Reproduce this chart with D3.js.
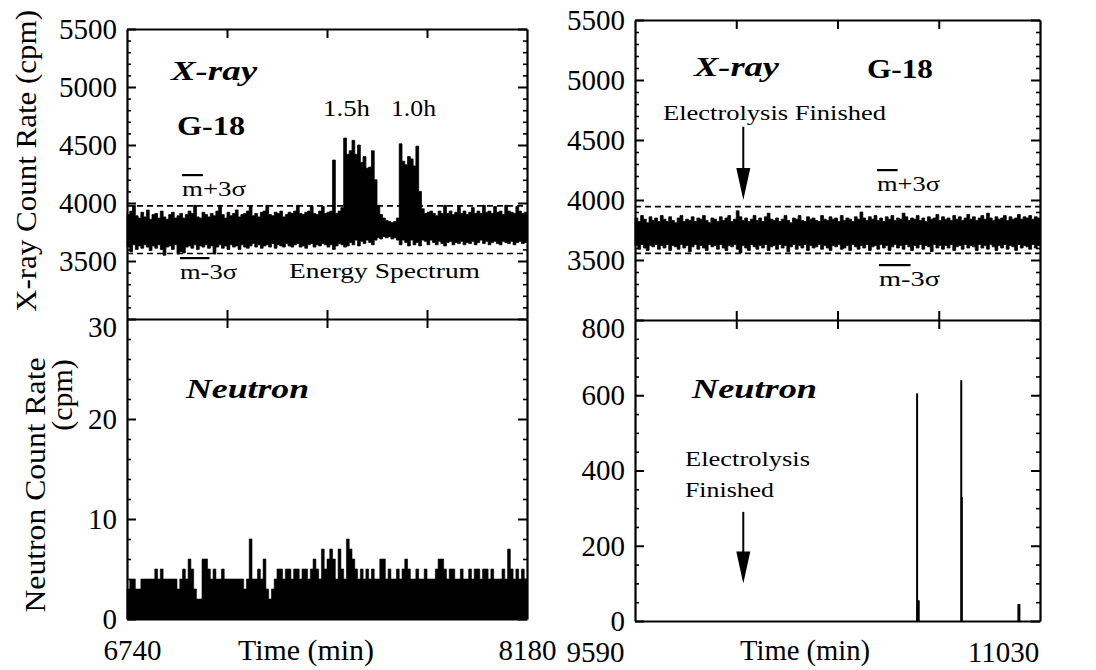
<!DOCTYPE html>
<html><head><meta charset="utf-8">
<script src="https://cdn.jsdelivr.net/npm/d3@7"></script>
<style>
body{margin:0;background:#fff}
svg{display:block}
text{font-family:"Liberation Serif","Times New Roman",serif;fill:#000}
</style>
</head><body>
<svg id="c" width="1096" height="670"></svg>
<script>
// ---------------- DATA ----------------
const binMinutes = 10;
const leftRange = [6740, 8180];
const rightRange = [9590, 11030];
const xrayDomain = [3000, 5500];
const xrayMajorTicks = [3500, 4000, 4500, 5000, 5500];
const neutronLeftDomain = [0, 30];
const neutronLeftTicks = [0, 10, 20, 30];
const neutronRightDomain = [0, 800];
const neutronRightTicks = [0, 200, 400, 600, 800];
const leftTimeTicks = [7100, 7460, 7820];
const rightTimeTicks = [9950, 10310, 10670];

// X-ray count rate, left (6740-8180 min), per 10-min bin: upper and lower envelope
const xrayLeftHi = [
3900,3930,3980,3890,3870,3920,3880,3940,3860,3900,
3910,3870,3930,3880,3860,3900,3920,3870,3890,3910,
3870,3900,3930,3910,3980,3880,3870,3920,3900,3880,
3910,3890,3930,3980,3900,3870,3920,3890,3910,3940,
3880,3900,3910,3930,3970,3890,3910,3880,3920,3930,
3980,3900,3890,3920,3910,3930,3880,3900,3920,3910,
3930,3980,3910,3900,3920,3930,3970,3910,3900,3930,
3970,3910,3920,3930,4370,3910,3930,3960,4560,4420,
4450,4540,4420,4500,4350,4400,4300,4310,4450,4200,
3980,3900,3870,3850,3840,3830,3840,3870,4510,4360,
4330,4400,4380,4320,4490,4100,3950,3910,3920,3930,
3910,3890,3930,3910,3980,3910,3930,3900,3920,3970,
3910,3930,3900,3920,3960,3910,3930,3910,3980,3920,
3930,3910,3970,3920,3930,3900,3980,3930,3920,3910,
3970,3930,3910,3920];
const xrayLeftLo = [
3620,3580,3640,3600,3630,3610,3640,3620,3590,3630,
3610,3640,3600,3550,3620,3630,3600,3640,3560,3580,
3570,3620,3630,3610,3640,3600,3630,3620,3640,3610,
3630,3560,3620,3640,3610,3630,3600,3640,3620,3630,
3600,3640,3620,3610,3630,3650,3620,3640,3610,3630,
3640,3620,3650,3610,3640,3630,3620,3650,3630,3620,
3640,3650,3620,3630,3610,3640,3650,3620,3640,3630,
3650,3640,3620,3640,3600,3630,3650,3640,3620,3630,
3660,3640,3680,3630,3670,3650,3680,3660,3640,3680,
3700,3690,3710,3700,3710,3690,3700,3680,3640,3680,
3660,3630,3680,3640,3660,3630,3680,3670,3640,3680,
3660,3640,3670,3650,3630,3660,3670,3640,3660,3650,
3670,3640,3660,3650,3670,3640,3660,3680,3650,3670,
3640,3660,3670,3650,3640,3670,3660,3650,3670,3640,
3660,3670,3650,3660];

// X-ray count rate, right (9590-11030 min)
const xrayRightHi = [
3850,3820,3870,3840,3810,3860,3830,3850,3820,3870,
3840,3820,3860,3830,3810,3850,3870,3820,3840,3830,
3860,3820,3850,3840,3870,3830,3810,3850,3840,3820,
3860,3830,3850,3870,3820,3840,3910,3860,3830,3850,
3820,3840,3870,3830,3850,3820,3860,3890,3840,3830,
3850,3820,3840,3870,3830,3810,3850,3840,3870,3830,
3820,3860,3840,3850,3830,3820,3870,3840,3830,3860,
3840,3850,3820,3870,3830,3850,3840,3820,3860,3840,
3900,3850,3830,3860,3840,3870,3830,3850,3820,3860,
3840,3870,3830,3850,3840,3890,3860,3830,3850,3840,
3870,3830,3850,3820,3860,3840,3850,3880,3830,3860,
3840,3850,3830,3870,3840,3860,3830,3850,3880,3840,
3860,3830,3850,3870,3840,3890,3850,3830,3860,3840,
3850,3870,3830,3860,3840,3850,3880,3840,3860,3850,
3870,3840,3860,3850];
const xrayRightLo = [
3620,3590,3630,3600,3580,3620,3610,3630,3590,3620,
3600,3630,3580,3620,3610,3590,3630,3600,3620,3570,
3610,3630,3590,3620,3600,3580,3630,3610,3620,3590,
3630,3600,3580,3620,3610,3630,3590,3560,3620,3600,
3580,3630,3610,3590,3620,3600,3630,3580,3610,3620,
3590,3630,3600,3620,3570,3610,3630,3590,3620,3600,
3630,3580,3620,3600,3610,3630,3590,3620,3600,3580,
3620,3610,3630,3590,3600,3620,3580,3630,3610,3590,
3620,3600,3630,3580,3610,3620,3590,3630,3600,3620,
3580,3610,3630,3600,3620,3590,3630,3610,3580,3620,
3600,3630,3590,3620,3610,3570,3630,3600,3620,3590,
3620,3600,3630,3580,3610,3620,3590,3630,3600,3620,
3610,3580,3630,3600,3620,3590,3630,3610,3580,3620,
3600,3630,3590,3620,3610,3580,3630,3600,3620,3610,
3590,3630,3600,3620];

// m ± 3σ levels
const sigmaLeft = [3565, 3975];
const sigmaRight = [3555, 3945];

// Neutron count rate, left: max per 10-min bin
const neutronLeft = [
3,4,4,3,3,4,4,4,4,4,
5,4,5,4,4,4,4,4,3,4,
5,4,6,5,3,2,2,6,6,5,
4,5,4,4,5,4,4,4,4,4,
4,4,3,4,8,4,4,5,4,6,
3,2,3,4,5,5,4,5,5,4,
5,5,4,5,5,4,5,6,5,4,
7,5,6,7,6,4,7,5,4,8,
7,6,5,4,5,4,5,4,5,4,
4,6,6,4,5,4,4,5,4,5,
6,5,4,4,5,4,4,5,4,4,
4,5,6,6,5,4,5,5,4,4,
5,4,4,5,4,5,5,4,5,5,
4,5,4,4,4,5,4,7,5,4,
5,4,5,4];

// Neutron count rate, right: isolated bursts
const neutronRightTimes = [10593, 10597, 10750, 10752, 10955];
const neutronRightValues = [605, 55, 640, 330, 45];

const electrolysisEnd = 9975;

// ---------------- LAYOUT ----------------
const svg = d3.select("#c");
const L = {x0:127, x1:527, top:29, mid:319, bot:619, range:leftRange, ticks:leftTimeTicks, labelDx:[5,0]};
const R = {x0:635, x1:1040, top:20, mid:320, bot:621, range:rightRange, ticks:rightTimeTicks, labelDx:[-40,-37]};
const tickFont = 29;
const fmt = d3.format("d");

function binsToPoints(arrHi, arrLo, start){
  const pts = arrHi.map((h,i)=>({t:start+i*binMinutes, hi:h, lo:arrLo?arrLo[i]:0}));
  const last = pts[pts.length-1];
  pts.push({t:last.t+binMinutes, hi:last.hi, lo:last.lo});
  return pts;
}

function yAxes(g, P, y, major, minor, topLabel){
  g.append("g").attr("transform",`translate(${P.x0},0)`)
    .call(d3.axisLeft(y).tickValues(major).tickSize(-9).tickSizeOuter(0).tickPadding(10).tickFormat(fmt))
    .call(s=>{s.select(".domain").attr("stroke-width",2.2);
      s.selectAll(".tick line").attr("stroke-width",2);
      s.selectAll("text").attr("font-size",tickFont).style("font-family","Liberation Serif").attr("fill","#000")
        .attr("dy",d=>d===topLabel?"0.62em":"0.32em");});
  g.append("g").attr("transform",`translate(${P.x0},0)`)
    .call(d3.axisLeft(y).tickValues(minor).tickSize(-4).tickSizeOuter(0).tickFormat(""))
    .call(s=>{s.select(".domain").remove(); s.selectAll(".tick line").attr("stroke-width",1.6);});
  g.append("g").attr("transform",`translate(${P.x1},0)`)
    .call(d3.axisRight(y).tickValues(major).tickSize(-9).tickSizeOuter(0).tickFormat(""))
    .call(s=>{s.select(".domain").attr("stroke-width",2.2); s.selectAll(".tick line").attr("stroke-width",2);});
  g.append("g").attr("transform",`translate(${P.x1},0)`)
    .call(d3.axisRight(y).tickValues(minor).tickSize(-4).tickSizeOuter(0).tickFormat(""))
    .call(s=>{s.select(".domain").remove(); s.selectAll(".tick line").attr("stroke-width",1.6);});
}

function drawPanel(P, hi, lo, nTicks, nDomain, nMinorStep, sigma){
  const x = d3.scaleLinear().domain(P.range).range([P.x0, P.x1]);
  const yX = d3.scaleLinear().domain(xrayDomain).range([P.mid, P.top]);
  const yN = d3.scaleLinear().domain(nDomain).range([P.bot, P.mid]);
  const g = svg.append("g");

  const pts = binsToPoints(hi, lo, P.range[0]);
  g.append("path").datum(pts)
    .attr("d", d3.area().curve(d3.curveStepAfter).x(d=>x(d.t)).y0(d=>yX(d.lo)).y1(d=>yX(d.hi)))
    .attr("fill","#000").attr("stroke","#000").attr("stroke-width",0.8);

  g.selectAll("line.sig").data(sigma).join("line")
    .attr("x1",P.x0).attr("x2",P.x1).attr("y1",d=>yX(d)).attr("y2",d=>yX(d))
    .attr("stroke","#000").attr("stroke-width",1.6).attr("stroke-dasharray","6,4");

  const xrMinor = d3.range(3100, 5500, 100).filter(v=>v%500!==0);
  yAxes(g, P, yX, xrayMajorTicks, xrMinor, null);
  const nMinor = d3.range(nDomain[0], nDomain[1], nMinorStep).filter(v=>!nTicks.includes(v));
  yAxes(g, P, yN, nTicks, nMinor, nDomain[1]);

  g.append("g").attr("transform",`translate(0,${P.top})`)
    .call(d3.axisTop(x).tickValues(P.ticks).tickSize(-9).tickSizeOuter(0).tickFormat(""))
    .call(s=>{s.select(".domain").attr("stroke-width",2.2); s.selectAll(".tick line").attr("stroke-width",2);});
  g.append("g").attr("transform",`translate(0,${P.mid})`)
    .call(d3.axisBottom(x).tickValues(P.ticks).tickSize(9).tickSizeOuter(0).tickFormat(""))
    .call(s=>{s.select(".domain").attr("stroke-width",2.2); s.selectAll(".tick line").attr("stroke-width",2);});
  g.append("g").attr("transform",`translate(0,${P.mid})`)
    .call(d3.axisTop(x).tickValues(P.ticks).tickSize(9).tickSizeOuter(0).tickFormat(""))
    .call(s=>{s.select(".domain").remove(); s.selectAll(".tick line").attr("stroke-width",2);});
  g.append("g").attr("transform",`translate(0,${P.bot})`)
    .call(d3.axisBottom(x).tickValues(P.range).tickSize(0).tickSizeOuter(0).tickPadding(20).tickFormat(fmt))
    .call(s=>{s.select(".domain").attr("stroke-width",2.2);
      s.selectAll("text").attr("font-size",tickFont).style("font-family","Liberation Serif").attr("fill","#000")
        .attr("dx",(d,i)=>P.labelDx[i]);});

  return {x, yX, yN, g};
}

const left = drawPanel(L, xrayLeftHi, xrayLeftLo, neutronLeftTicks, neutronLeftDomain, 2, sigmaLeft);
const right = drawPanel(R, xrayRightHi, xrayRightLo, neutronRightTicks, neutronRightDomain, 50, sigmaRight);

const nPts = binsToPoints(neutronLeft, null, leftRange[0]);
left.g.append("path").datum(nPts)
  .attr("d", d3.area().curve(d3.curveStepAfter).x(d=>left.x(d.t)).y0(left.yN(0)).y1(d=>left.yN(d.hi)))
  .attr("fill","#000").attr("stroke","#000").attr("stroke-width",0.6);

right.g.selectAll("line.stem").data(neutronRightTimes).join("line")
  .attr("x1",d=>right.x(d)).attr("x2",d=>right.x(d))
  .attr("y1",right.yN(0)).attr("y2",(d,i)=>right.yN(neutronRightValues[i]))
  .attr("stroke","#000").attr("stroke-width",(d,i)=>neutronRightValues[i]<100?3:2);

// ---------------- TEXT ----------------
function txt(x,y,s,opt={}){
  const t = svg.append("text").attr("x",x).attr("y",y).text(s)
    .attr("font-size",opt.size||22);
  if(opt.bold) t.attr("font-weight","bold");
  if(opt.italic) t.attr("font-style","italic");
  if(opt.len) t.attr("textLength",opt.len).attr("lengthAdjust","spacingAndGlyphs");
  if(opt.anchor) t.attr("text-anchor",opt.anchor);
  return t;
}
function sigmaLabel(x,y,sign,len){
  const t = svg.append("text").attr("x",x).attr("y",y).attr("font-size",22)
    .attr("textLength",len).attr("lengthAdjust","spacingAndGlyphs");
  t.append("tspan").text(sign==="+"?"m":"m-").style("text-decoration","overline");
  t.append("tspan").text(sign==="+"?"+3σ":"3σ");
}

txt(171,80,"X-ray",{size:28,bold:true,italic:true,len:86});
txt(177,135,"G-18",{size:28,bold:true,len:68});
txt(323,116,"1.5h",{size:24,len:47});
txt(391,116,"1.0h",{size:24,len:45});
sigmaLabel(182,196,"+",64);
sigmaLabel(180,279,"-",57);
txt(289,278,"Energy Spectrum",{size:22,len:191});
txt(186,398,"Neutron",{size:28,bold:true,italic:true,len:123});

txt(694,76,"X-ray",{size:28,bold:true,italic:true,len:85});
txt(867,78,"G-18",{size:28,bold:true,len:66});
txt(663,120,"Electrolysis Finished",{size:21,len:223});
sigmaLabel(877,191,"+",63);
sigmaLabel(879,286,"-",61);
txt(692,398,"Neutron",{size:28,bold:true,italic:true,len:125});
txt(685,466,"Electrolysis",{size:21,len:125});
txt(685,497,"Finished",{size:21,len:89});

function arrow(x, yTop, yTip){
  svg.append("line").attr("x1",x).attr("x2",x).attr("y1",yTop).attr("y2",yTip-20)
    .attr("stroke","#000").attr("stroke-width",2);
  svg.append("path").attr("d",`M${x-7},${yTip-32}L${x+7},${yTip-32}L${x},${yTip}Z`).attr("fill","#000");
}
arrow(right.x(electrolysisEnd), right.yX(4610), right.yX(4000));
arrow(right.x(electrolysisEnd), right.yN(290), right.yN(100));

svg.append("text").attr("transform","translate(36,161) rotate(-90)").attr("text-anchor","middle")
  .attr("font-size",30).attr("textLength",302).attr("lengthAdjust","spacingAndGlyphs").text("X-ray Count Rate (cpm)");
svg.append("text").attr("transform","translate(45,485) rotate(-90)").attr("text-anchor","middle")
  .attr("font-size",30).attr("textLength",255).attr("lengthAdjust","spacingAndGlyphs").text("Neutron Count Rate");
svg.append("text").attr("transform","translate(72,395) rotate(-90)").attr("text-anchor","middle")
  .attr("font-size",30).text("(cpm)");
txt(306,660,"Time (min)",{size:tickFont,anchor:"middle",len:136});
txt(805,660,"Time (min)",{size:tickFont,anchor:"middle",len:130});
</script>
</body></html>
